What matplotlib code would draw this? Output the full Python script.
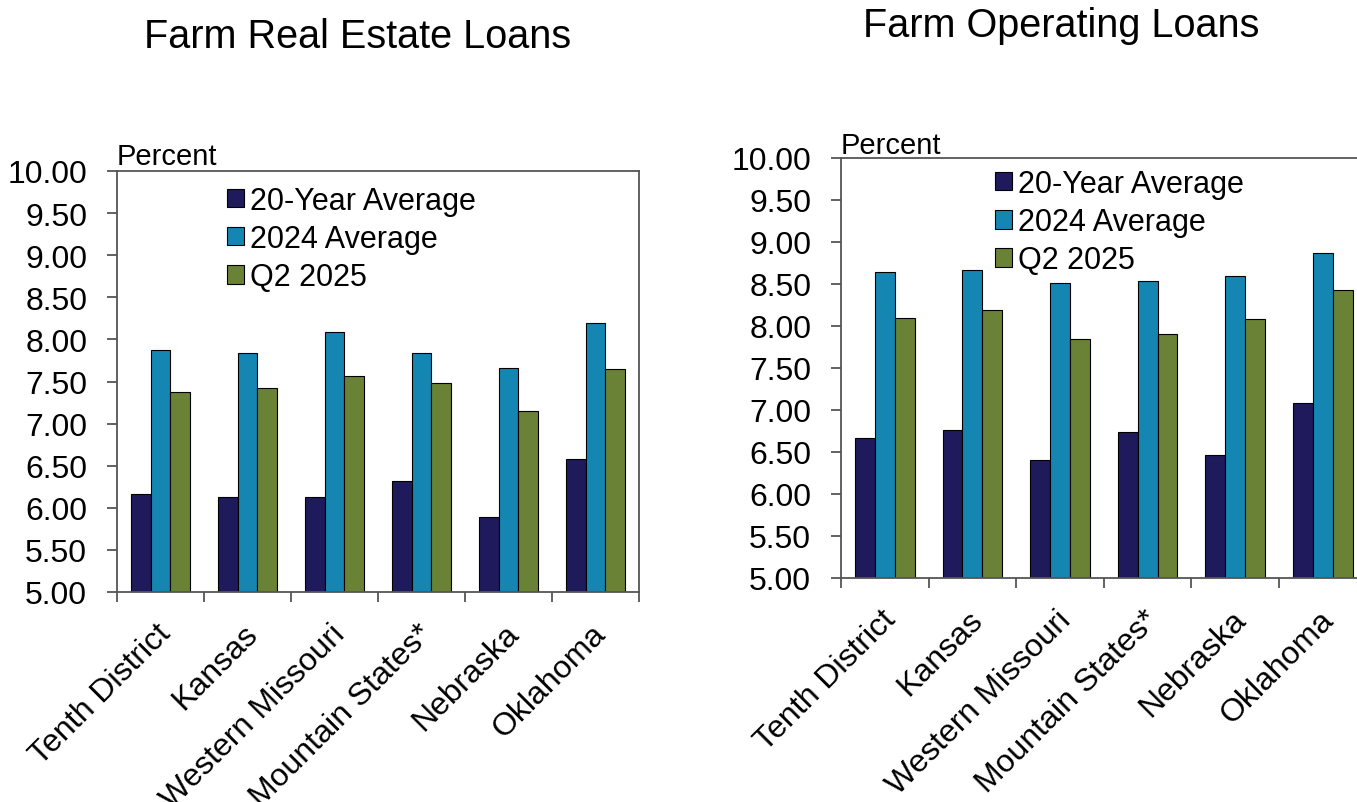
import matplotlib.pyplot as plt
import numpy as np
from matplotlib.transforms import blended_transform_factory

plt.rcParams['font.family'] = ['Liberation Sans', 'DejaVu Sans']

regions = ["Tenth District", "Kansas", "Western Missouri",
           "Mountain States*", "Nebraska", "Oklahoma"]
series_names = ["20-Year Average", "2024 Average", "Q2 2025"]

# interest rates, percent
real_estate_20yr = [6.16, 6.13, 6.13, 6.32, 5.89, 6.58]
real_estate_2024 = [7.87, 7.84, 8.09, 7.84, 7.66, 8.20]
real_estate_q2 = [7.38, 7.42, 7.56, 7.48, 7.15, 7.65]

operating_20yr = [6.67, 6.76, 6.41, 6.74, 6.47, 7.08]
operating_2024 = [8.64, 8.67, 8.51, 8.54, 8.59, 8.87]
operating_q2 = [8.09, 8.19, 7.84, 7.90, 8.08, 8.43]

yticks = np.arange(5.0, 10.01, 0.5)
colors = ['#1f1a5c', '#1586b2', '#6a8236']
axis_color = '#555555'
fs = 22

W, H = 1357, 803
fig = plt.figure(figsize=(W / 100, H / 100), dpi=100, facecolor='white')


def px_axes(x0, x1, ytop, ybot):
    return fig.add_axes([x0 / W, 1 - ybot / H, (x1 - x0) / W, (ybot - ytop) / H])


def draw_panel(ax, series, legend_xy, percent_gap, label_drop):
    n = len(regions)
    centers = np.arange(n) + 0.5
    width = 0.227
    for k, vals in enumerate(series):
        ax.bar(centers + (k - 1) * width, vals, width, bottom=0,
               color=colors[k], edgecolor='black', linewidth=0.8,
               label=series_names[k], zorder=2)
    ax.set_xlim(0, n)
    ax.set_ylim(5, 10)
    ax.set_yticks(yticks)
    ax.set_yticklabels(['%.2f' % t for t in yticks], fontsize=fs + 1)
    ax.set_xticks(np.arange(n + 1))
    ax.set_xticklabels([])
    ax.tick_params(axis='both', direction='out', length=7.5, width=1.3,
                   color=axis_color)
    ax.tick_params(axis='y', pad=14)
    for s in ax.spines.values():
        s.set_color(axis_color)
        s.set_linewidth(1.3)

    # rotated region names under each group
    trans = blended_transform_factory(ax.transData, ax.transAxes)
    for c, name in zip(centers, regions):
        ax.text(c + 0.07, -label_drop, name, transform=trans, rotation=45,
                rotation_mode='anchor', ha='right', va='center',
                fontsize=fs + 1)

    ax.text(0, 1 + percent_gap, 'Percent', transform=ax.transAxes,
            ha='left', va='baseline', fontsize=fs - 1)

    leg = ax.legend(loc='upper left', bbox_to_anchor=legend_xy, frameon=False,
                    fontsize=fs, handlelength=0.56, handleheight=0.56,
                    handletextpad=0.2, labelspacing=0.27, borderpad=0,
                    borderaxespad=0)
    return leg


ax1 = px_axes(117, 639, 172, 593)
draw_panel(ax1, [real_estate_20yr, real_estate_2024, real_estate_q2],
           (0.2107, 0.965), 7 / 421, 37 / 421)

ax2 = px_axes(841, 1366.6, 159, 579)
draw_panel(ax2, [operating_20yr, operating_2024, operating_q2],
           (0.293, 0.974), 5 / 420, 37 / 420)

fig.text(358 / W, 1 - 48 / H, 'Farm Real Estate Loans', ha='center',
         va='baseline', fontsize=28.5)
fig.text(1061 / W, 1 - 37 / H, 'Farm Operating Loans', ha='center',
         va='baseline', fontsize=28.5)

fig.savefig('out.png', dpi=100, facecolor='white')
